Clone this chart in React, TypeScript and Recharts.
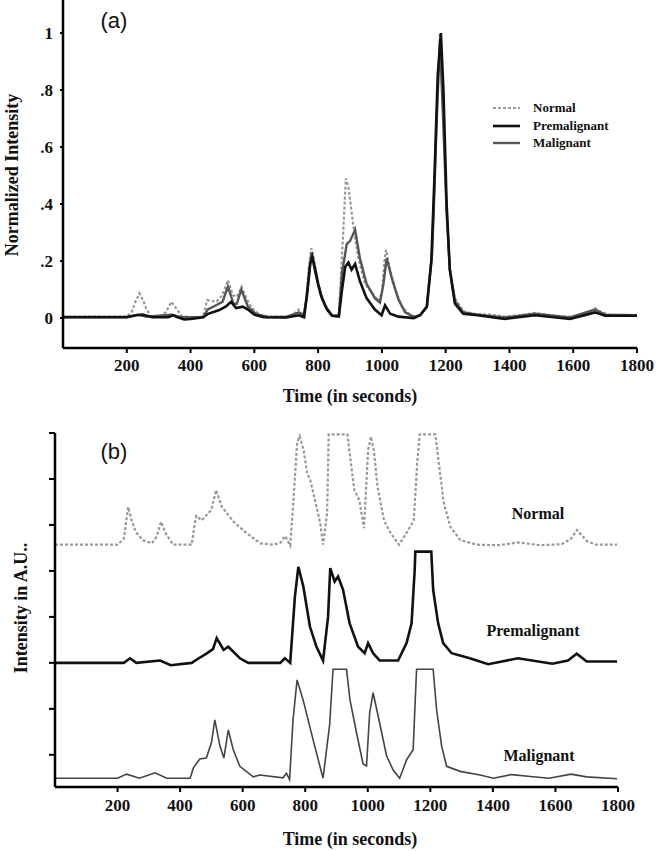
import React from "react";
import { LineChart, Line, XAxis, YAxis } from "recharts";

// ---------- Panel (a): normalized intensity, [time s, value] ----------
const normalA: [number, number][] = [
  [0, 0.005], [200, 0.005], [215, 0.02], [228, 0.06], [240, 0.087], [252, 0.06], [262, 0.03], [275, 0.008],
  [300, 0.005], [322, 0.02], [340, 0.057], [358, 0.03], [372, 0.008], [400, 0.003], [440, 0.005], [452, 0.063],
  [465, 0.06], [482, 0.058], [500, 0.081], [517, 0.133], [533, 0.08], [545, 0.075], [560, 0.11], [575, 0.07],
  [592, 0.035], [616, 0.012], [650, 0.005], [700, 0.005], [722, 0.01], [738, 0.03], [755, 0.01], [762, 0.06],
  [770, 0.17], [779, 0.245], [785, 0.22], [795, 0.15], [807, 0.09], [823, 0.045], [844, 0.01], [865, 0.01], [873, 0.18],
  [880, 0.33], [887, 0.49], [895, 0.46], [911, 0.32], [926, 0.21], [947, 0.12], [968, 0.09], [989, 0.06],
  [1000, 0.09], [1008, 0.2], [1013, 0.24], [1026, 0.17], [1042, 0.1], [1063, 0.04], [1084, 0.015], [1100, 0.005],
  [1120, 0.01], [1141, 0.04], [1157, 0.23], [1162, 0.37], [1172, 0.7], [1182, 1.0], [1192, 0.72], [1203, 0.38],
  [1213, 0.18], [1229, 0.07], [1255, 0.025], [1290, 0.015], [1340, 0.012], [1385, 0.005], [1430, 0.01],
  [1480, 0.018], [1530, 0.01], [1600, 0.003], [1640, 0.01], [1668, 0.035], [1690, 0.02], [1720, 0.01],
  [1760, 0.008], [1800, 0.012],
];
const premalignantA: [number, number][] = [
  [0, 0.003], [200, 0.003], [230, 0.01], [250, 0.012], [280, 0.003], [330, 0.003], [345, 0.01], [360, 0.003],
  [380, -0.005], [400, -0.003], [440, 0.003], [455, 0.015], [490, 0.028], [510, 0.04], [527, 0.057], [543, 0.035],
  [564, 0.04], [580, 0.03], [600, 0.012], [630, 0.003], [700, 0.002], [740, 0.01], [755, 0.003], [765, 0.08],
  [775, 0.19], [782, 0.215], [791, 0.17], [800, 0.12], [812, 0.07], [828, 0.03], [844, 0.008], [865, 0.005], [875, 0.1],
  [885, 0.18], [895, 0.195], [905, 0.17], [916, 0.19], [931, 0.13], [952, 0.07], [978, 0.03], [999, 0.01],
  [1010, 0.045], [1026, 0.015], [1052, 0.005], [1100, 0.0], [1120, 0.01], [1141, 0.04], [1155, 0.2], [1165, 0.5],
  [1175, 0.85], [1185, 1.0], [1193, 0.8], [1203, 0.4], [1213, 0.17], [1229, 0.05], [1255, 0.015], [1300, 0.01],
  [1385, -0.003], [1480, 0.01], [1590, -0.003], [1668, 0.02], [1700, 0.008], [1800, 0.008],
];
const malignantA: [number, number][] = [
  [0, 0.004], [200, 0.004], [235, 0.012], [260, 0.005], [340, 0.012], [370, 0.003], [440, 0.004], [454, 0.03],
  [480, 0.045], [500, 0.057], [517, 0.11], [535, 0.05], [545, 0.05], [559, 0.1], [580, 0.04], [605, 0.015],
  [640, 0.004], [700, 0.004], [740, 0.02], [757, 0.005], [767, 0.1], [779, 0.23], [791, 0.16], [807, 0.085],
  [823, 0.04], [844, 0.008], [865, 0.008], [875, 0.16], [890, 0.26], [900, 0.27], [916, 0.31], [931, 0.21],
  [952, 0.12], [978, 0.07], [994, 0.055], [1005, 0.12], [1015, 0.21], [1031, 0.14], [1052, 0.065], [1073, 0.02],
  [1100, 0.004], [1120, 0.01], [1141, 0.04], [1157, 0.22], [1162, 0.36], [1172, 0.7], [1182, 0.97], [1192, 0.7],
  [1203, 0.37], [1213, 0.17], [1229, 0.06], [1255, 0.02], [1300, 0.012], [1385, 0.002], [1480, 0.015],
  [1590, 0.002], [1668, 0.03], [1700, 0.012], [1800, 0.01],
];

// ---------- Panel (b): stacked intensities (A.U., offset traces) ----------
const normalB: [number, number][] = [
  [0, 4.57], [200, 4.57], [220, 4.7], [234, 5.39], [245, 5.1], [258, 4.85], [280, 4.67], [310, 4.6], [325, 4.75],
  [339, 5.07], [355, 4.8], [378, 4.57], [437, 4.57], [447, 5.04], [452, 5.2], [469, 5.1], [500, 5.33], [515, 5.76],
  [533, 5.4], [571, 5.07], [613, 4.82], [656, 4.6], [699, 4.57], [722, 4.62], [736, 4.76], [752, 4.55], [763, 5.6],
  [774, 6.78], [782, 6.93], [795, 6.63], [806, 6.13], [816, 5.98], [848, 5.04], [857, 4.57], [870, 5.26],
  [875, 6.97], [935, 6.97], [946, 6.35], [957, 5.76], [973, 5.54], [988, 4.93], [1001, 6.63], [1010, 6.92],
  [1020, 6.6], [1031, 5.83], [1052, 5.1], [1073, 4.82], [1100, 4.57], [1126, 4.85], [1147, 5.1], [1158, 6.35],
  [1166, 6.97], [1216, 6.97], [1227, 6.35], [1243, 5.48], [1264, 4.96], [1296, 4.67], [1349, 4.57], [1420, 4.56],
  [1480, 4.62], [1550, 4.56], [1620, 4.58], [1650, 4.7], [1669, 4.89], [1700, 4.65], [1730, 4.57], [1797, 4.57],
];
const premalignantB: [number, number][] = [
  [0, 2.0], [220, 2.0], [240, 2.1], [260, 2.0], [336, 2.05], [370, 1.95], [437, 2.0], [460, 2.1], [484, 2.2],
  [505, 2.3], [517, 2.54], [539, 2.28], [554, 2.35], [591, 2.1], [618, 2.0], [720, 2.0], [735, 2.1], [752, 2.0],
  [767, 3.44], [778, 4.09], [794, 3.66], [815, 2.79], [836, 2.35], [857, 2.05], [873, 3.0], [880, 4.06],
  [894, 3.77], [905, 3.88], [921, 3.59], [942, 2.86], [969, 2.35], [990, 2.21], [1001, 2.43], [1017, 2.21],
  [1038, 2.05], [1097, 2.05], [1124, 2.43], [1140, 2.86], [1150, 4.02], [1152, 4.42], [1203, 4.42], [1209, 3.59],
  [1225, 2.86], [1241, 2.43], [1268, 2.21], [1326, 2.1], [1385, 1.97], [1480, 2.1], [1590, 1.98], [1640, 2.05],
  [1668, 2.2], [1700, 2.03], [1797, 2.03],
];
const malignantB: [number, number][] = [
  [0, -0.51], [200, -0.51], [229, -0.42], [270, -0.51], [320, -0.39], [357, -0.51], [432, -0.51], [442, -0.29],
  [463, -0.09], [484, -0.07], [500, 0.26], [511, 0.76], [527, 0.2], [540, -0.07], [554, 0.54], [570, 0.11],
  [591, -0.25], [634, -0.48], [655, -0.44], [729, -0.5], [740, -0.4], [750, -0.54], [761, 0.76], [774, 1.63],
  [793, 1.2], [825, 0.33], [857, -0.51], [878, 0.65], [889, 1.86], [932, 1.86], [943, 1.2], [964, 0.48],
  [985, -0.2], [996, -0.24], [1006, 0.91], [1017, 1.35], [1033, 0.85], [1060, -0.02], [1081, -0.33],
  [1102, -0.51], [1124, -0.11], [1145, 0.11], [1156, 1.86], [1209, 1.86], [1220, 0.98], [1236, 0.2],
  [1252, -0.25], [1295, -0.36], [1359, -0.44], [1402, -0.51], [1460, -0.43], [1520, -0.47], [1580, -0.51],
  [1650, -0.42], [1700, -0.48], [1797, -0.52],
];

const timeTicks = [200, 400, 600, 800, 1000, 1200, 1400, 1600, 1800];
const yTicksA = [0, 0.2, 0.4, 0.6, 0.8, 1];
const yTickLabelsA = ["0", ".2", ".4", ".6", ".8", "1"];
const yTicksB = [0, 1, 2, 3, 4, 5, 6, 7];
const seriesNames = ["Normal", "Premalignant", "Malignant"];
const xTitle = "Time (in seconds)";
const yTitleA = "Normalized Intensity";
const yTitleB = "Intensity in A.U..";

const toRows = (arr: [number, number][]) => arr.map(([t, v]) => ({ t, v }));

const SERIF = "'Liberation Serif', 'Times New Roman', serif";
const SANS = "'Liberation Sans', Arial, sans-serif";

const XTick = (props: any) => {
  const { x, y, payload } = props;
  return (
    <text x={x} y={y} dy={13} textAnchor="middle" fontFamily={SERIF} fontSize={17} fontWeight={700} fill="#111">
      {String(payload.value)}
    </text>
  );
};
const YTickA = (props: any) => {
  const { x, y, payload } = props;
  const idx = yTicksA.indexOf(payload.value);
  return (
    <text x={x} y={y} dy={6} textAnchor="end" fontFamily={SERIF} fontSize={17} fontWeight={700} fill="#111">
      {idx >= 0 ? yTickLabelsA[idx] : String(payload.value)}
    </text>
  );
};
const EmptyTick = () => <g />;

const NORMAL_STYLE = { stroke: "#999", strokeWidth: 2.2, strokeDasharray: "3 2" };
const PRE_STYLE = { stroke: "#111", strokeWidth: 2.6 };
const MAL_STYLE_A = { stroke: "#555", strokeWidth: 2.4 };
const MAL_STYLE_B = { stroke: "#444", strokeWidth: 1.6 };

export default function App() {
  return (
    <div style={{ position: "absolute", left: 0, top: 0, width: 658, height: 851, background: "#fff" }}>
      {/* Panel (a) */}
      <div style={{ position: "absolute", left: 0, top: 0 }}>
        <LineChart width={658} height={420} margin={{ top: 0, right: 21, bottom: 0, left: 0 }}>
          <XAxis
            type="number"
            dataKey="t"
            domain={[0, 1800]}
            ticks={timeTicks}
            allowDataOverflow
            height={72}
            axisLine={{ stroke: "#000", strokeWidth: 2.5 }}
            tickLine={{ stroke: "#000", strokeWidth: 2 }}
            tickSize={5}
            tickMargin={5}
            tick={<XTick />}
          />
          <YAxis
            type="number"
            domain={[-0.105, 1.116]}
            ticks={yTicksA}
            allowDataOverflow
            width={63}
            axisLine={{ stroke: "#000", strokeWidth: 2.5 }}
            tickLine={{ stroke: "#000", strokeWidth: 2 }}
            tickSize={3}
            tickMargin={7}
            tick={<YTickA />}
          />
          <Line data={toRows(normalA)} dataKey="v" name={seriesNames[0]} type="linear" dot={false} activeDot={false} isAnimationActive={false} {...NORMAL_STYLE} />
          <Line data={toRows(malignantA)} dataKey="v" name={seriesNames[2]} type="linear" dot={false} activeDot={false} isAnimationActive={false} {...MAL_STYLE_A} />
          <Line data={toRows(premalignantA)} dataKey="v" name={seriesNames[1]} type="linear" dot={false} activeDot={false} isAnimationActive={false} {...PRE_STYLE} />
        </LineChart>
      </div>

      {/* Panel (b) */}
      <div style={{ position: "absolute", left: 0, top: 400 }}>
        <LineChart width={658} height={451} margin={{ top: 33, right: 40, bottom: 0, left: 0 }}>
          <XAxis
            type="number"
            dataKey="t"
            domain={[0, 1800]}
            ticks={timeTicks}
            allowDataOverflow
            height={64}
            axisLine={{ stroke: "#000", strokeWidth: 2.5 }}
            tickLine={{ stroke: "#000", strokeWidth: 2 }}
            tickSize={5}
            tickMargin={6}
            tick={<XTick />}
          />
          <YAxis
            type="number"
            domain={[-0.7, 7]}
            ticks={yTicksB}
            allowDataOverflow
            width={55}
            axisLine={{ stroke: "#000", strokeWidth: 2.5 }}
            tickLine={{ stroke: "#000", strokeWidth: 2 }}
            tickSize={6}
            tick={<EmptyTick />}
          />
          <Line data={toRows(normalB)} dataKey="v" name={seriesNames[0]} type="linear" dot={false} activeDot={false} isAnimationActive={false} {...NORMAL_STYLE} />
          <Line data={toRows(premalignantB)} dataKey="v" name={seriesNames[1]} type="linear" dot={false} activeDot={false} isAnimationActive={false} {...PRE_STYLE} />
          <Line data={toRows(malignantB)} dataKey="v" name={seriesNames[2]} type="linear" dot={false} activeDot={false} isAnimationActive={false} {...MAL_STYLE_B} />
        </LineChart>
      </div>

      {/* Text overlay: titles, panel tags, legend */}
      <svg width={658} height={851} style={{ position: "absolute", left: 0, top: 0, pointerEvents: "none" }}>
        <text x={114} y={28} textAnchor="middle" fontFamily={SANS} fontSize={22} fill="#111">(a)</text>
        <text x={114} y={459} textAnchor="middle" fontFamily={SANS} fontSize={22} fill="#111">(b)</text>

        <text x={350} y={402} textAnchor="middle" fontFamily={SERIF} fontSize={18} fontWeight={700} fill="#111">{xTitle}</text>
        <text x={350} y={845} textAnchor="middle" fontFamily={SERIF} fontSize={18} fontWeight={700} fill="#111">{xTitle}</text>

        <text transform="translate(18,175) rotate(-90)" textAnchor="middle" fontFamily={SERIF} fontSize={18} fontWeight={700} fill="#111">{yTitleA}</text>
        <text transform="translate(27,608) rotate(-90)" textAnchor="middle" fontFamily={SERIF} fontSize={18} fontWeight={700} fill="#111">{yTitleB}</text>

        {/* legend (a) */}
        <line x1={493} x2={520} y1={108} y2={108} {...NORMAL_STYLE} />
        <line x1={493} x2={520} y1={126} y2={126} {...PRE_STYLE} />
        <line x1={493} x2={520} y1={143} y2={143} {...MAL_STYLE_A} />
        <text x={533} y={112} fontFamily={SERIF} fontSize={13} fontWeight={700} fill="#111">{seriesNames[0]}</text>
        <text x={533} y={130} fontFamily={SERIF} fontSize={13} fontWeight={700} fill="#111">{seriesNames[1]}</text>
        <text x={533} y={147} fontFamily={SERIF} fontSize={13} fontWeight={700} fill="#111">{seriesNames[2]}</text>

        {/* trace labels (b) */}
        <text x={538} y={519} textAnchor="middle" fontFamily={SERIF} fontSize={16} fontWeight={700} fill="#111">{seriesNames[0]}</text>
        <text x={533} y={636} textAnchor="middle" fontFamily={SERIF} fontSize={16} fontWeight={700} fill="#111">{seriesNames[1]}</text>
        <text x={539} y={761} textAnchor="middle" fontFamily={SERIF} fontSize={16} fontWeight={700} fill="#111">{seriesNames[2]}</text>
      </svg>
    </div>
  );
}
